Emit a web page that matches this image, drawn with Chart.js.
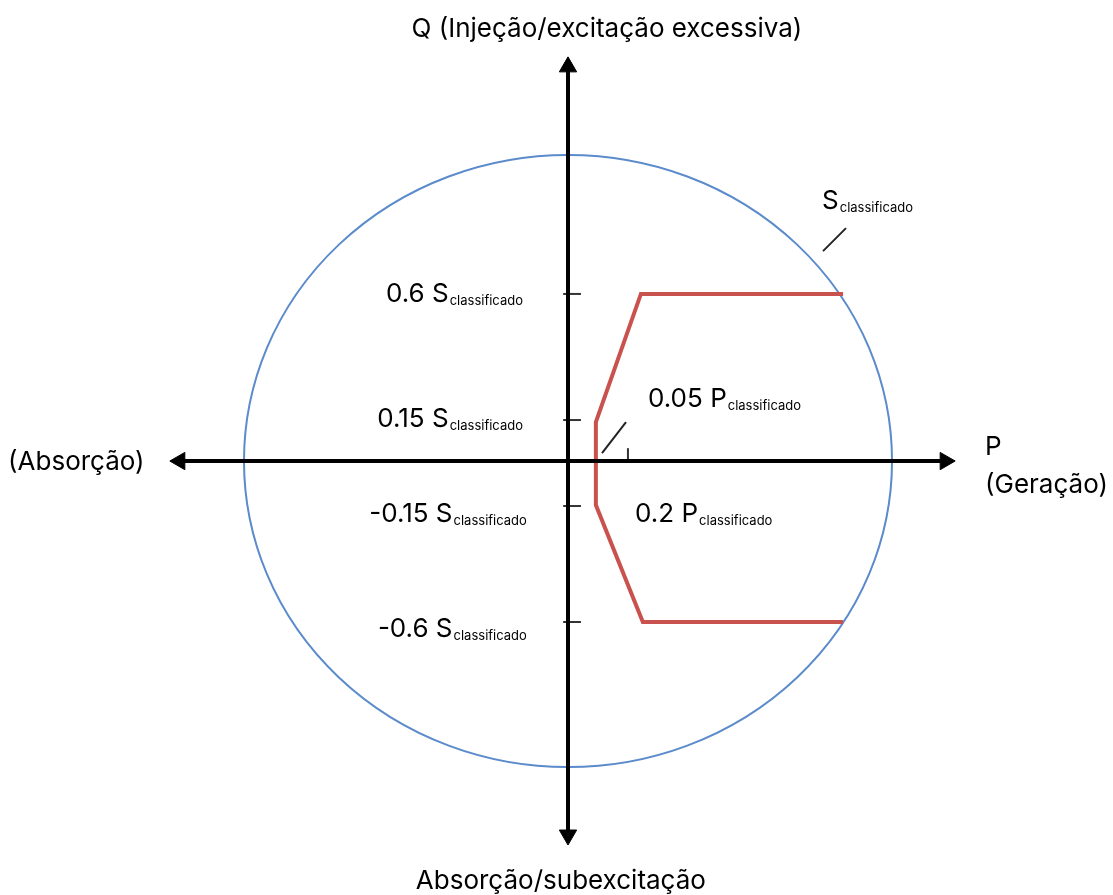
<!DOCTYPE html>
<html>
<head>
<meta charset="utf-8">
<script src="https://cdn.jsdelivr.net/npm/chart.js@4.4.1/dist/chart.umd.min.js"></script>
<style>
  html, body { margin: 0; padding: 0; background: #ffffff; }
</style>
</head>
<body>
<canvas id="pqChart" width="1113" height="895"></canvas>
<script>
// P and Q in units of S rated (circle = S rated)
const sRated = 1;
const curveP = [0.849, 0.225, 0.086, 0.086, 0.231, 0.849];
const curveQ = [0.546, 0.546, 0.127, -0.144, -0.526, -0.526];

// tick marks on the Q axis and on the P axis
const qTickValues = [0.546, 0.134, -0.147, -0.526];
const qTickLabels = ['0.6', '0.15', '-0.15', '-0.6'];
const pTickValues = [0.185];
const pTickLabels = ['0.2', '0.05'];

// axis ends (where the arrow heads sit)
const pAxisEnds = [-1.198, 1.164];
const qAxisEnds = [1.288, -1.222];

// leader lines
const leaderS = [[0.787, 0.686], [0.858, 0.761]];
const leaderP = [[0.105, 0.026], [0.179, 0.127]];

const subText = 'classificado';
const titleTop = 'Q (Injeção/excitação excessiva)';
const titleBottom = 'Absorção/subexcitação';
const labelLeft = '(Absorção)';
const labelRightA = 'P';
const labelRightB = '(Geração)';

const FONT = 'Inter, "DejaVu Sans", sans-serif';
const MAIN_SIZE = 26;
const SUB_SIZE = 13;

// where each annotation goes (data coords) + alignment
const annotations = [
    { main: titleTop, x: 0.120, y: 1.415, align: 'center' },
    { main: titleBottom, x: -0.022, y: -1.369, align: 'center' },
    { main: labelLeft, x: -1.728, y: 0.0, align: 'left' },
    { main: labelRightA, x: 1.287, y: 0.049, align: 'left' },
    { main: labelRightB, x: 1.287, y: -0.075, align: 'left' },
    { main: 'S', sub: subText, x: 0.784, y: 0.853, align: 'left' },
    { main: qTickLabels[0] + ' S', sub: subText, x: -0.139, y: 0.549, align: 'right' },
    { main: qTickLabels[1] + ' S', sub: subText, x: -0.139, y: 0.141, align: 'right' },
    { main: qTickLabels[2] + ' S', sub: subText, x: -0.127, y: -0.170, align: 'right' },
    { main: qTickLabels[3] + ' S', sub: subText, x: -0.127, y: -0.546, align: 'right' },
    { main: pTickLabels[1] + ' P', sub: subText, x: 0.247, y: 0.206, align: 'left' },
    { main: pTickLabels[0] + ' P', sub: subText, x: 0.207, y: -0.167, align: 'left' }
];

function pts(xs, ys) {
    return xs.map((x, i) => ({ x: x, y: ys[i] }));
}

// circle for S rated, drawn through the scales
const circlePlugin = {
    id: 'sCircle',
    beforeDatasetsDraw(chart) {
        const { ctx, scales } = chart;
        const cx = scales.x.getPixelForValue(0);
        const cy = scales.y.getPixelForValue(0);
        const rx = scales.x.getPixelForValue(sRated) - cx;
        const ry = cy - scales.y.getPixelForValue(sRated);
        ctx.save();
        ctx.strokeStyle = '#5b8bcb';
        ctx.lineWidth = 2;
        ctx.beginPath();
        ctx.ellipse(cx, cy, rx, ry, 0, 0, Math.PI * 2);
        ctx.stroke();
        ctx.restore();
    }
};

// labels with subscripts
const labelPlugin = {
    id: 'richLabels',
    afterDatasetsDraw(chart) {
        const { ctx, scales } = chart;
        ctx.save();
        ctx.fillStyle = '#000000';
        ctx.textBaseline = 'alphabetic';
        annotations.forEach(a => {
            const px = scales.x.getPixelForValue(a.x);
            const py = scales.y.getPixelForValue(a.y);
            ctx.font = MAIN_SIZE + 'px ' + FONT;
            const w1 = ctx.measureText(a.main).width;
            let w2 = 0;
            if (a.sub) {
                ctx.font = SUB_SIZE + 'px ' + FONT;
                w2 = ctx.measureText(a.sub).width + 1;
            }
            const total = w1 + w2;
            let start = px;
            if (a.align === 'right') start = px - total;
            if (a.align === 'center') start = px - total / 2;
            const base = py + MAIN_SIZE * 0.36;
            ctx.font = MAIN_SIZE + 'px ' + FONT;
            ctx.textAlign = 'left';
            ctx.fillText(a.main, start, base);
            if (a.sub) {
                ctx.font = SUB_SIZE + 'px ' + FONT;
                ctx.fillText(a.sub, start + w1 + 1, base + 3);
            }
        });
        ctx.restore();
    }
};

const thin = { borderColor: '#222222', borderWidth: 2, pointRadius: 0, showLine: true, fill: false };

const datasets = [
    // axes with arrow heads (on top)
    {
        data: pts(pAxisEnds, [0, 0]),
        showLine: true,
        borderColor: '#000000',
        borderWidth: 4,
        pointStyle: 'triangle',
        pointRadius: 10,
        pointRotation: [270, 90],
        pointBackgroundColor: '#000000',
        pointBorderColor: '#000000',
        pointBorderWidth: 1,
        order: 0
    },
    {
        data: pts([0, 0], qAxisEnds),
        showLine: true,
        borderColor: '#000000',
        borderWidth: 4,
        pointStyle: 'triangle',
        pointRadius: 10,
        pointRotation: [0, 180],
        pointBackgroundColor: '#000000',
        pointBorderColor: '#000000',
        pointBorderWidth: 1,
        order: 0
    },
    // capability curve
    {
        data: pts(curveP, curveQ),
        showLine: true,
        borderColor: '#c9524f',
        borderWidth: 4,
        pointRadius: 0,
        borderJoinStyle: 'miter',
        order: 1
    },
    // leader lines
    Object.assign({ data: leaderS.map(p => ({ x: p[0], y: p[1] })), order: 2 }, thin),
    Object.assign({ data: leaderP.map(p => ({ x: p[0], y: p[1] })), order: 2 }, thin)
];

// small ticks on Q axis
qTickValues.forEach(v => {
    datasets.push(Object.assign({ data: [{ x: -0.015, y: v }, { x: 0.04, y: v }], order: 2 }, thin, { borderColor: '#333333' }));
});
// small tick on P axis
pTickValues.forEach(v => {
    datasets.push(Object.assign({ data: [{ x: v, y: 0 }, { x: v, y: 0.042 }], order: 2 }, thin, { borderColor: '#333333' }));
});

const ctx = document.getElementById('pqChart').getContext('2d');
window.pqChart = new Chart(ctx, {
    type: 'scatter',
    data: { datasets: datasets },
    options: {
        responsive: false,
        animation: false,
        devicePixelRatio: 1,
        layout: { padding: 0, autoPadding: false },
        plugins: {
            legend: { display: false },
            tooltip: { enabled: false }
        },
        scales: {
            x: { type: 'linear', min: -1.753, max: 1.682, display: false },
            y: { type: 'linear', min: -1.418, max: 1.5065, display: false }
        }
    },
    plugins: [circlePlugin, labelPlugin]
});
</script>
</body>
</html>
